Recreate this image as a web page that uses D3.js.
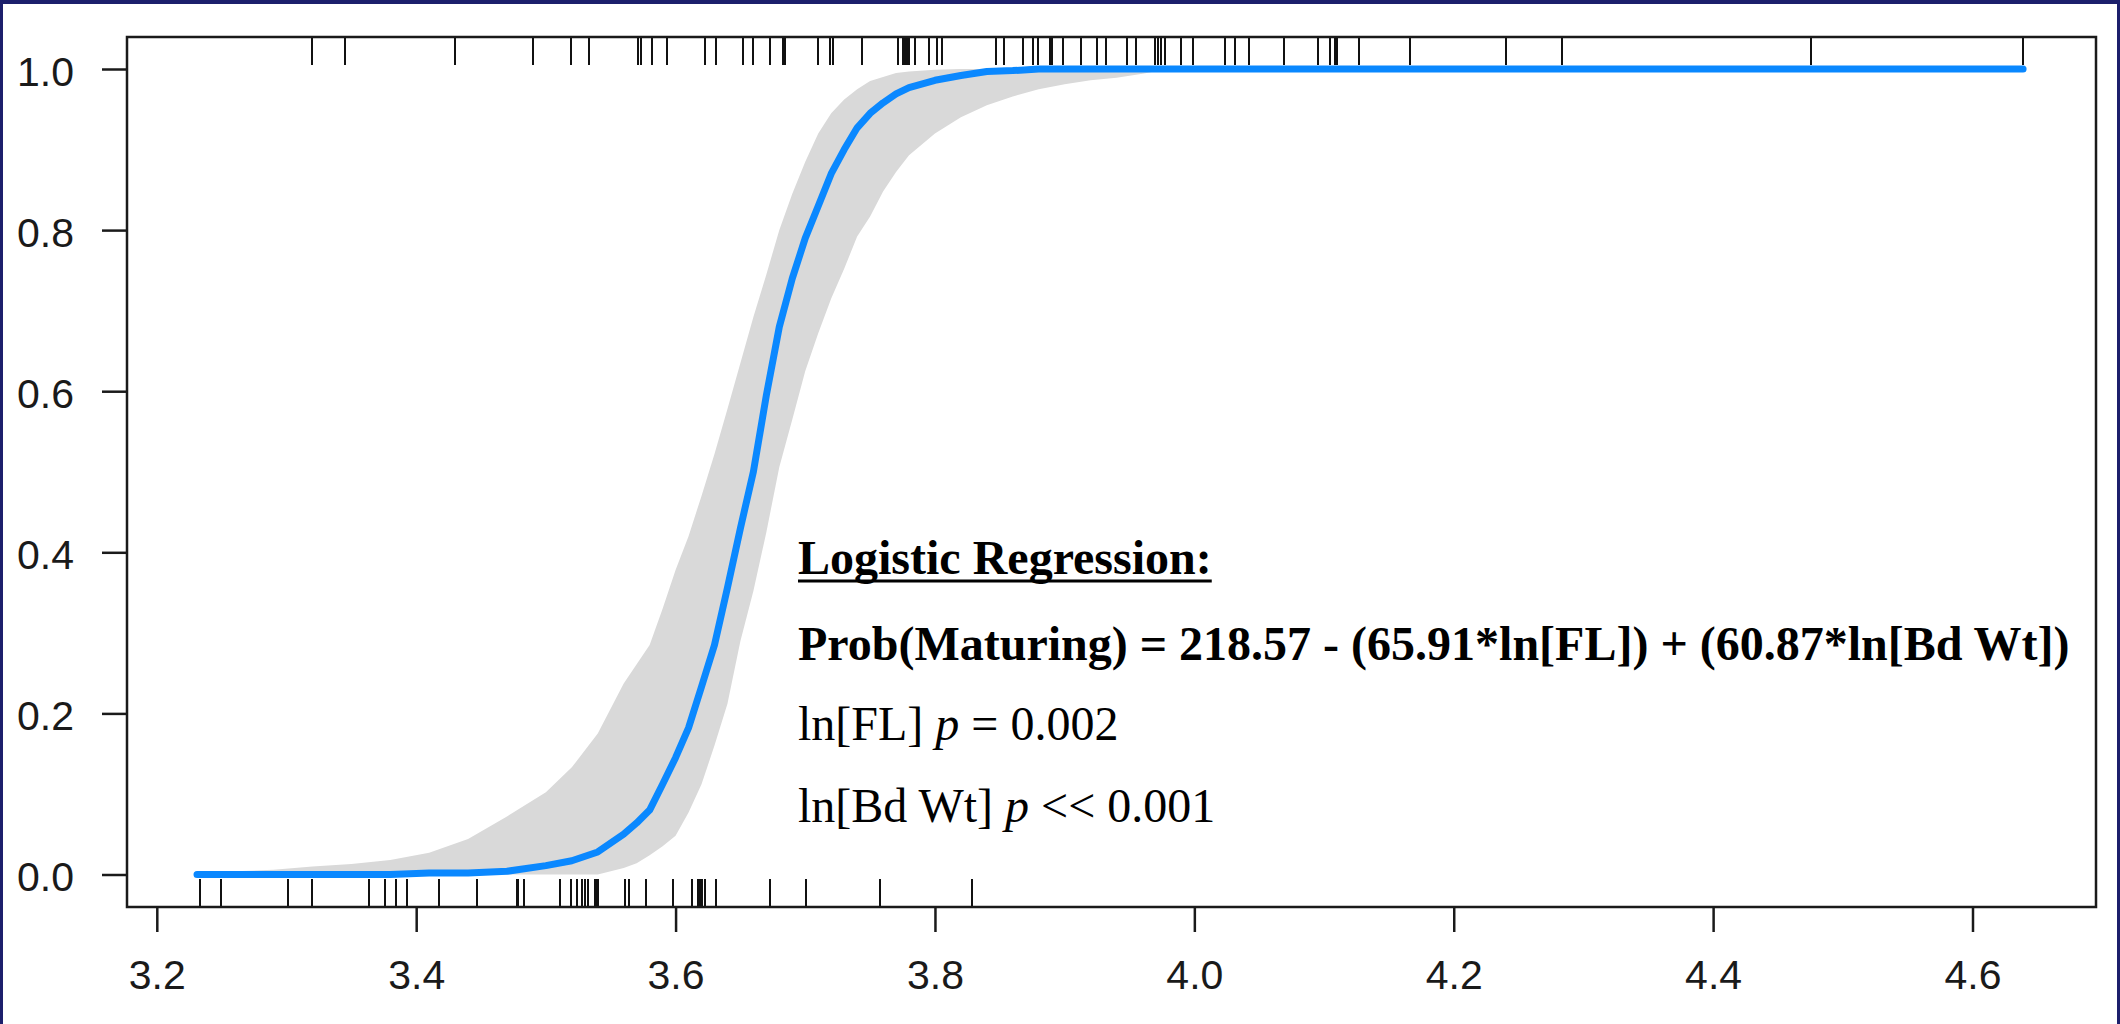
<!DOCTYPE html>
<html>
<head>
<meta charset="utf-8">
<script src="https://cdn.jsdelivr.net/npm/d3@7"></script>
<style>
  html, body { margin: 0; padding: 0; background: #1c1f6c; }
  svg { display: block; }
</style>
</head>
<body>
<script>
// ---- data ----
var xTicks = [3.2, 3.4, 3.6, 3.8, 4.0, 4.2, 4.4, 4.6];
var yTicks = [0.0, 0.2, 0.4, 0.6, 0.8, 1.0];

// x positions where the fitted curve and its band were read
var fitX = [3.231, 3.26, 3.29, 3.32, 3.35, 3.38, 3.41, 3.44, 3.47, 3.50, 3.52, 3.54,
  3.56, 3.57, 3.58, 3.59, 3.60, 3.61, 3.62, 3.63, 3.64, 3.65, 3.66, 3.67, 3.68, 3.69,
  3.70, 3.71, 3.72, 3.73, 3.74, 3.75, 3.76, 3.77, 3.78, 3.80, 3.82, 3.84, 3.86, 3.88,
  3.90, 3.92, 3.94, 3.96, 3.98, 4.00, 4.639];

var fitP = [0, 0, 0, 0, 0, 0, 0.002, 0.002, 0.004, 0.011, 0.017, 0.028,
  0.050, 0.064, 0.080, 0.112, 0.145, 0.182, 0.233, 0.285, 0.356, 0.430, 0.500, 0.595, 0.680, 0.740,
  0.790, 0.830, 0.870, 0.900, 0.927, 0.945, 0.958, 0.969, 0.977, 0.986, 0.992, 0.997, 0.998, 1.0,
  1.0, 1.0, 1.0, 1.0, 1.0, 1.0, 1.0];

var upperP = [0.002, 0.004, 0.006, 0.010, 0.013, 0.018, 0.027, 0.044, 0.072, 0.102, 0.133, 0.175,
  0.237, 0.261, 0.285, 0.330, 0.378, 0.420, 0.470, 0.522, 0.578, 0.635, 0.692, 0.745, 0.800, 0.845,
  0.885, 0.920, 0.945, 0.962, 0.975, 0.985, 0.990, 0.995, 0.997, 0.999, 1.0, 1.0, 1.0, 1.0,
  1.0, 1.0, 1.0, 1.0, 1.0, 1.0, 1.0];

var lowerP = [0, 0, 0, 0, 0, 0, 0, 0, 0, 0, 0, 0,
  0.008, 0.014, 0.024, 0.035, 0.048, 0.077, 0.112, 0.160, 0.212, 0.290, 0.352, 0.425, 0.506, 0.565,
  0.625, 0.672, 0.715, 0.752, 0.792, 0.817, 0.848, 0.872, 0.893, 0.920, 0.940, 0.955, 0.966, 0.975,
  0.981, 0.986, 0.989, 0.994, 1.0, 1.0, 1.0];

// rug: matured fish (top) and immature fish (bottom)
var rugMature = [3.3198, 3.3448, 3.4299, 3.4903, 3.5191, 3.5335, 3.5713, 3.5731, 3.5816, 3.5936,
  3.6227, 3.6312, 3.6522, 3.6599, 3.6728, 3.6831, 3.6844, 3.7100, 3.7191, 3.7212, 3.7435,
  3.7717, 3.7756, 3.7769, 3.7787, 3.7802, 3.7846, 3.7954, 3.8013, 3.8052, 3.8468, 3.8535,
  3.8677, 3.8758, 3.8797, 3.8887, 3.8900, 3.8990, 3.9126, 3.9252, 3.9319, 3.9483, 3.9550,
  3.9697, 3.9722, 3.9741, 3.9774, 3.9897, 3.9988, 4.0236, 4.0313, 4.0421, 4.0691, 4.0956,
  4.1046, 4.1085, 4.1102, 4.1270, 4.1664, 4.2404, 4.2838, 4.4751, 4.6393];

var rugImmature = [3.2333, 3.2493, 3.3014, 3.3199, 3.3636, 3.3760, 3.3844, 3.3927, 3.4176, 3.4467,
  3.4775, 3.4787, 3.4831, 3.5109, 3.5190, 3.5238, 3.5275, 3.5302, 3.5327, 3.5379, 3.5392,
  3.5404, 3.5610, 3.5641, 3.5772, 3.5983, 3.6124, 3.6175, 3.6188, 3.6202, 3.6227, 3.6312,
  3.6729, 3.7008, 3.7576, 3.8283];

var noteLines = [
  { parts: [{ t: "Logistic Regression:" }], bold: true, underline: true },
  { parts: [{ t: "Prob(Maturing) = 218.57 - (65.91*ln[FL]) + (60.87*ln[Bd Wt])" }], bold: true },
  { parts: [{ t: "ln[FL] " }, { t: "p", italic: true }, { t: " = 0.002" }] },
  { parts: [{ t: "ln[Bd Wt] " }, { t: "p", italic: true }, { t: " << 0.001" }] }
];

(function() {

  var W = 2120, H = 1024;
  var box = { left: 127, right: 2096, top: 37, bottom: 907 };

  var svg = d3.select("body").append("svg")
    .attr("width", W)
    .attr("height", H);

  // white panel inside the navy slide frame
  svg.append("rect")
    .attr("x", 3).attr("y", 4)
    .attr("width", W - 6).attr("height", H - 4)
    .attr("fill", "#ffffff");

  var x = d3.scaleLinear().domain([3.2, 4.6]).range([156.8, 1972.5]);
  var y = d3.scaleLinear().domain([0, 1]).range([874.5, 69]);

  // confidence band
  var bandData = fitX.map(function(v, i) {
    return { x: v, lo: lowerP[i], hi: upperP[i], p: fitP[i] };
  });

  svg.append("path")
    .datum(bandData)
    .attr("fill", "#d9d9d9")
    .attr("d", d3.area()
      .x(function(d) { return x(d.x); })
      .y0(function(d) { return y(d.lo); })
      .y1(function(d) { return y(d.hi); }));

  // fitted curve
  svg.append("path")
    .datum(bandData)
    .attr("fill", "none")
    .attr("stroke", "#0a88ff")
    .attr("stroke-width", 7)
    .attr("stroke-linejoin", "round")
    .attr("stroke-linecap", "round")
    .attr("d", d3.line()
      .x(function(d) { return x(d.x); })
      .y(function(d) { return y(d.p); }));

  // rugs
  var rugLen = 28;
  function drawRug(values, y1, y2) {
    svg.append("g")
      .attr("shape-rendering", "crispEdges")
      .selectAll("line")
      .data(values)
      .enter().append("line")
      .attr("x1", function(d) { return Math.round(x(d)); })
      .attr("x2", function(d) { return Math.round(x(d)); })
      .attr("y1", y1)
      .attr("y2", y2)
      .attr("stroke", "#111")
      .attr("stroke-width", 2);
  }
  drawRug(rugMature, box.top, box.top + rugLen);
  drawRug(rugImmature, box.bottom, box.bottom - rugLen);

  // frame
  svg.append("rect")
    .attr("x", box.left).attr("y", box.top)
    .attr("width", box.right - box.left)
    .attr("height", box.bottom - box.top)
    .attr("fill", "none")
    .attr("stroke", "#1a1a1a")
    .attr("stroke-width", 2.5);

  // axes
  var tickFont = "'Liberation Sans', Arial, sans-serif";

  var yAxis = svg.append("g")
    .attr("transform", "translate(" + box.left + ",0)")
    .call(d3.axisLeft(y).tickValues(yTicks).tickSize(25).tickFormat(d3.format(".1f")));
  yAxis.select(".domain").remove();
  yAxis.selectAll(".tick line").attr("stroke", "#1a1a1a").attr("stroke-width", 2.5);
  yAxis.selectAll(".tick text")
    .attr("x", -53)
    .attr("dy", "16px")
    .attr("fill", "#1a1a1a")
    .style("font-family", tickFont)
    .style("font-size", "41px");

  var xAxis = svg.append("g")
    .attr("transform", "translate(0," + box.bottom + ")")
    .call(d3.axisBottom(x).tickValues(xTicks).tickSize(25).tickFormat(d3.format(".1f")));
  xAxis.select(".domain").remove();
  xAxis.selectAll(".tick line").attr("stroke", "#1a1a1a").attr("stroke-width", 2.5);
  xAxis.selectAll(".tick text")
    .attr("y", 82)
    .attr("dy", 0)
    .attr("fill", "#1a1a1a")
    .style("font-family", tickFont)
    .style("font-size", "41px");

  // regression note
  var noteX = 798;
  var baselines = [574, 660, 740, 822];
  noteLines.forEach(function(line, i) {
    var txt = svg.append("text")
      .attr("x", noteX)
      .attr("y", baselines[i])
      .attr("fill", "#000")
      .style("font-family", "'Liberation Serif', 'Times New Roman', serif")
      .style("font-size", "48px")
      .style("font-weight", line.bold ? "bold" : "normal")
      .attr("xml:space", "preserve");
    line.parts.forEach(function(p) {
      txt.append("tspan")
        .style("font-style", p.italic ? "italic" : "normal")
        .text(p.t);
    });
    if (line.underline) {
      var w = txt.node().getComputedTextLength();
      svg.append("line")
        .attr("x1", noteX).attr("x2", noteX + w)
        .attr("y1", baselines[i] + 7).attr("y2", baselines[i] + 7)
        .attr("stroke", "#000")
        .attr("stroke-width", 3);
    }
  });

}());
</script>
</body>
</html>
